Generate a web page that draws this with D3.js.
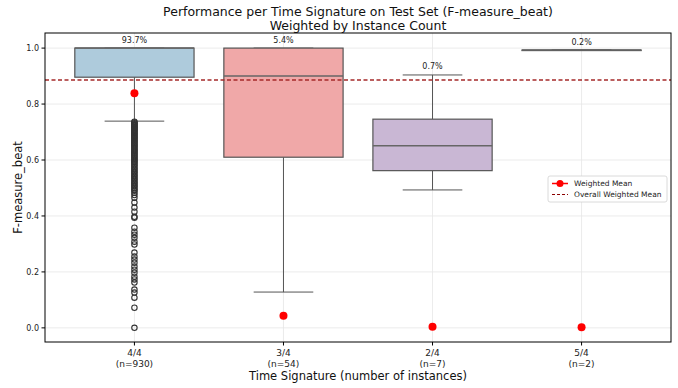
<!DOCTYPE html>
<html lang="en">
<head>
<meta charset="UTF-8">
<title>Performance per Time Signature</title>
<script src="https://cdn.jsdelivr.net/npm/d3@7"></script>
<style>
  body { margin: 0; background: #fff; }
  text { font-family: "DejaVu Sans", sans-serif; }
</style>
</head>
<body>
<svg width="678" height="388"></svg>
<script>
// categories and stats
var categories = ["4/4", "3/4", "2/4", "5/4"];
var counts = [930, 54, 7, 2];
var shares = ["93.7%", "5.4%", "0.7%", "0.2%"];
var whiskerLow = [0.739, 0.128, 0.493, 0.993];
var q1 = [0.896, 0.61, 0.562, 0.993];
var median = [1.0, 0.9, 0.651, 0.993];
var q3 = [1.0, 1.0, 0.746, 0.993];
var whiskerHigh = [1.0, 1.0, 0.904, 0.993];
var weightedMean = [0.839, 0.043, 0.004, 0.002];
var overallMean = 0.886;
var fills = ["#aecbdc", "#f0a8a8", "#c9b7d4", "#c5e0b4"];
// outliers of 4/4 below the lower whisker
var outliers44 = [0.737, 0.734, 0.731, 0.728, 0.725, 0.722, 0.719, 0.716, 0.713, 0.71,
  0.707, 0.704, 0.70, 0.697, 0.694, 0.69, 0.686, 0.683, 0.68, 0.676, 0.672, 0.668, 0.665,
  0.661, 0.657, 0.653, 0.65, 0.646, 0.642, 0.638, 0.634, 0.63, 0.626, 0.622, 0.618, 0.614,
  0.61, 0.606, 0.602, 0.598, 0.594, 0.59, 0.585, 0.58, 0.575, 0.57, 0.565, 0.56, 0.555,
  0.55, 0.545, 0.54, 0.535, 0.53, 0.525, 0.52, 0.515, 0.51, 0.505, 0.50, 0.495, 0.49,
  0.483, 0.475, 0.465, 0.448, 0.43, 0.415, 0.397, 0.394, 0.358, 0.344, 0.333, 0.322, 0.308,
  0.298, 0.269, 0.255, 0.244, 0.233, 0.219, 0.208, 0.197, 0.183, 0.173, 0.162, 0.137,
  0.126, 0.108, 0.072, 0.0];
var yTicks = [0.0, 0.2, 0.4, 0.6, 0.8, 1.0];

var svg = d3.select("svg");
var plotLeft = 45, plotRight = 671, plotTop = 33, plotBottom = 342;

var x = d3.scaleLinear().domain([-0.6, 3.6]).range([plotLeft, plotRight]);
var y = d3.scaleLinear().domain([-0.0505, 1.054]).range([plotBottom, plotTop]);
var boxW = 0.8 * (x(1) - x(0));

// grid
svg.append("g").selectAll("line").data(yTicks).join("line")
  .attr("x1", plotLeft).attr("x2", plotRight)
  .attr("y1", function(d) { return y(d); }).attr("y2", function(d) { return y(d); })
  .attr("stroke", "#e6e6e6").attr("stroke-width", 0.8);
svg.append("g").selectAll("line").data(categories).join("line")
  .attr("x1", function(d, i) { return x(i); }).attr("x2", function(d, i) { return x(i); })
  .attr("y1", plotTop).attr("y2", plotBottom)
  .attr("stroke", "#e6e6e6").attr("stroke-width", 0.8);

var boxes = svg.append("g").selectAll("g").data(categories).join("g");

// whiskers
boxes.append("line")
  .attr("x1", function(d, i) { return x(i); }).attr("x2", function(d, i) { return x(i); })
  .attr("y1", function(d, i) { return y(whiskerLow[i]); })
  .attr("y2", function(d, i) { return y(q1[i]); })
  .attr("stroke", "#555").attr("stroke-width", 1);
boxes.append("line")
  .attr("x1", function(d, i) { return x(i); }).attr("x2", function(d, i) { return x(i); })
  .attr("y1", function(d, i) { return y(whiskerHigh[i]); })
  .attr("y2", function(d, i) { return y(q3[i]); })
  .attr("stroke", "#555").attr("stroke-width", 1);
[whiskerLow, whiskerHigh].forEach(function(arr) {
  boxes.append("line")
    .attr("x1", function(d, i) { return x(i) - boxW / 4; })
    .attr("x2", function(d, i) { return x(i) + boxW / 4; })
    .attr("y1", function(d, i) { return y(arr[i]); })
    .attr("y2", function(d, i) { return y(arr[i]); })
    .attr("stroke", "#555").attr("stroke-width", 1);
});

// boxes
boxes.append("rect")
  .attr("x", function(d, i) { return x(i) - boxW / 2; })
  .attr("width", boxW)
  .attr("y", function(d, i) { return y(q3[i]); })
  .attr("height", function(d, i) { return Math.max(0.5, y(q1[i]) - y(q3[i])); })
  .attr("fill", function(d, i) { return fills[i]; })
  .attr("stroke", "#555").attr("stroke-width", 1.2);
boxes.append("line")
  .attr("x1", function(d, i) { return x(i) - boxW / 2; })
  .attr("x2", function(d, i) { return x(i) + boxW / 2; })
  .attr("y1", function(d, i) { return y(median[i]); })
  .attr("y2", function(d, i) { return y(median[i]); })
  .attr("stroke", "#666").attr("stroke-width", 1.5);

// outliers
svg.append("g").selectAll("circle").data(outliers44).join("circle")
  .attr("cx", x(0)).attr("cy", function(d) { return y(d); })
  .attr("r", 2.7).attr("fill", "none").attr("stroke", "#333").attr("stroke-width", 1.1);

// percentage labels
boxes.append("text")
  .attr("x", function(d, i) { return x(i); })
  .attr("y", function(d, i) { return y(whiskerHigh[i]) - 5.5; })
  .attr("text-anchor", "middle").attr("font-size", 8).attr("fill", "#222")
  .text(function(d, i) { return shares[i]; });

// overall mean line
svg.append("line")
  .attr("x1", plotLeft).attr("x2", plotRight)
  .attr("y1", y(overallMean)).attr("y2", y(overallMean))
  .attr("stroke", "#a52a2a").attr("stroke-width", 1.3).attr("stroke-dasharray", "4,2.5");

// weighted means
svg.append("g").selectAll("circle").data(weightedMean).join("circle")
  .attr("cx", function(d, i) { return x(i); }).attr("cy", function(d) { return y(d); })
  .attr("r", 4).attr("fill", "#ff0000");

// frame
svg.append("rect").attr("x", plotLeft).attr("y", plotTop)
  .attr("width", plotRight - plotLeft).attr("height", plotBottom - plotTop)
  .attr("fill", "none").attr("stroke", "#000").attr("stroke-width", 1);

// y axis
var yAxis = svg.append("g").selectAll("g").data(yTicks).join("g");
yAxis.append("line").attr("x1", plotLeft - 3.5).attr("x2", plotLeft)
  .attr("y1", function(d) { return y(d); }).attr("y2", function(d) { return y(d); })
  .attr("stroke", "#000");
yAxis.append("text").attr("x", plotLeft - 6).attr("y", function(d) { return y(d) + 3; })
  .attr("text-anchor", "end").attr("font-size", 8).attr("fill", "#222")
  .text(function(d) { return d3.format(".1f")(d); });

// x axis
var xAxis = svg.append("g").selectAll("g").data(categories).join("g");
xAxis.append("line")
  .attr("x1", function(d, i) { return x(i); }).attr("x2", function(d, i) { return x(i); })
  .attr("y1", plotBottom).attr("y2", plotBottom + 3.5).attr("stroke", "#000");
xAxis.append("text").attr("x", function(d, i) { return x(i); }).attr("y", plotBottom + 14)
  .attr("text-anchor", "middle").attr("font-size", 9).attr("fill", "#222")
  .text(function(d) { return d; });
xAxis.append("text").attr("x", function(d, i) { return x(i); }).attr("y", plotBottom + 25)
  .attr("text-anchor", "middle").attr("font-size", 9).attr("fill", "#222")
  .text(function(d, i) { return "(n=" + counts[i] + ")"; });

// axis titles
svg.append("text").attr("x", (plotLeft + plotRight) / 2).attr("y", 380)
  .attr("text-anchor", "middle").attr("font-size", 11.5).attr("fill", "#111")
  .text("Time Signature (number of instances)");
svg.append("text").attr("transform", "translate(22," + ((plotTop + plotBottom) / 2) + ") rotate(-90)")
  .attr("text-anchor", "middle").attr("font-size", 11.5).attr("fill", "#111")
  .text("F-measure_beat");

// title
svg.append("text").attr("x", (plotLeft + plotRight) / 2).attr("y", 16)
  .attr("text-anchor", "middle").attr("font-size", 12.5).attr("fill", "#111")
  .text("Performance per Time Signature on Test Set (F-measure_beat)");
svg.append("text").attr("x", (plotLeft + plotRight) / 2).attr("y", 29.5)
  .attr("text-anchor", "middle").attr("font-size", 12.5).attr("fill", "#111")
  .text("Weighted by Instance Count");

// legend
var lg = svg.append("g").attr("transform", "translate(548,176)");
lg.append("rect").attr("width", 119).attr("height", 26).attr("rx", 2)
  .attr("fill", "#fff").attr("stroke", "#d0d0d0").attr("stroke-width", 0.8);
lg.append("line").attr("x1", 4).attr("x2", 20).attr("y1", 7.5).attr("y2", 7.5)
  .attr("stroke", "#ff0000").attr("stroke-width", 1.5);
lg.append("circle").attr("cx", 12).attr("cy", 7.5).attr("r", 3.5).attr("fill", "#ff0000");
lg.append("text").attr("x", 26).attr("y", 10.3).attr("font-size", 7.5).attr("fill", "#222")
  .text("Weighted Mean");
lg.append("line").attr("x1", 4).attr("x2", 20).attr("y1", 18.5).attr("y2", 18.5)
  .attr("stroke", "#8b0000").attr("stroke-width", 1.2).attr("stroke-dasharray", "3,2");
lg.append("text").attr("x", 26).attr("y", 21.3).attr("font-size", 7.5).attr("fill", "#222")
  .text("Overall Weighted Mean");
</script>
</body>
</html>
